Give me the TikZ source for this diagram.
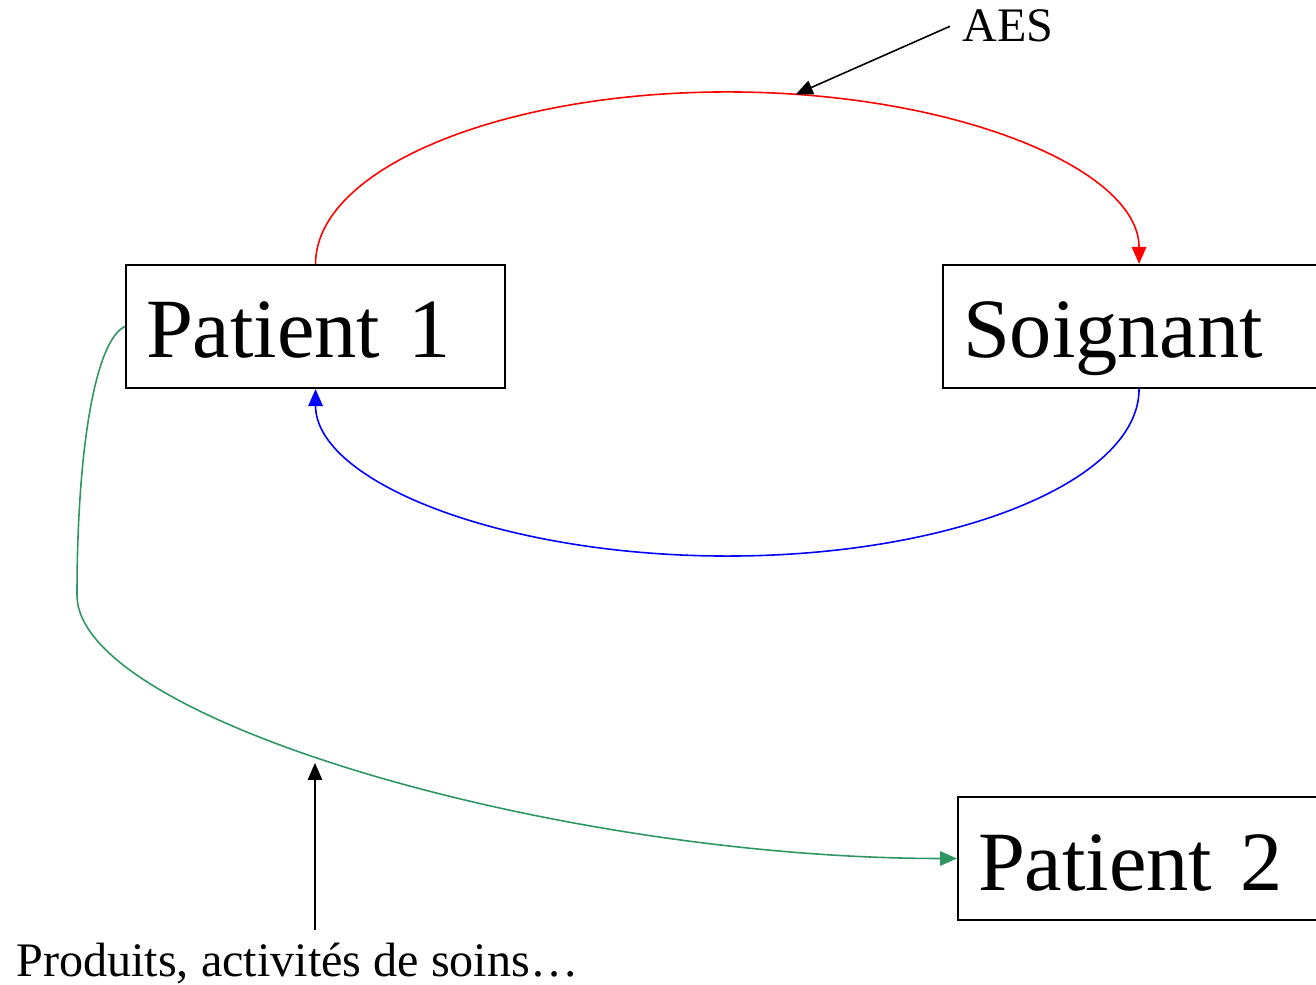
\documentclass[tikz,border=0pt]{standalone}
\usepackage{fontspec}
\setmainfont{Liberation Serif}
\usetikzlibrary{arrows.meta,positioning,calc}

\definecolor{aesred}{RGB}{255,0,0}
\definecolor{backblue}{RGB}{0,0,255}
\definecolor{crossgreen}{RGB}{46,150,100}

\begin{document}
\begin{tikzpicture}[
    box/.style={rectangle, draw, line width=0.6pt, minimum height=1.23cm, text height=0.63cm, text depth=0cm, align=left, inner xsep=0.2cm, font=\fontsize{24}{28}\selectfont},
    label/.style={font=\fontsize{13.7}{16}\selectfont},
    flow/.style={line width=0.45pt, -{Triangle[length=1.7mm, width=1.45mm]}},
    pointer/.style={black, line width=0.45pt, -{Triangle[length=1.7mm, width=1.45mm]}}
]
    \useasboundingbox (0,0) rectangle (13.16,-9.85);

    % Patient 1
    \node[box, text width=3.39cm, anchor=west] (p1) at (1.25,-3.265) {Patient 1};

    % Soignant
    \node[box, text width=3.52cm, anchor=west] (soig) at (9.42,-3.265) {Soignant};

    % Patient 2
    \node[box, text width=3.6cm, anchor=west] (p2) at (9.57,-8.585) {Patient 2};

    % Labels
    \node[label, anchor=base west] (aes) at (9.5,-0.42) {AES};
    \node[label, anchor=base west] (prod) at (0.04,-9.76) {Produits, activités de soins…};

    % Helper points
    \coordinate (top) at ($(p1.north)!0.5!(soig.north)+(0,1.72)$);
    \coordinate (bottom) at ($(p1.south)!0.5!(soig.south)+(0,-1.67)$);
    \coordinate (bend) at (0.77,-5.95);
    \coordinate (hit) at ($(top)+(0.685,-0.024)$);
    \coordinate (gtip) at (3.15,-7.63);

    % Patient 1 -> Soignant
    \draw[flow, aesred] (p1.north) .. controls +(0,0.95) and +(-2.27,0) .. (top)
        .. controls +(2.27,0) and +(0,0.95) .. (soig.north);

    % Soignant -> Patient 1
    \draw[flow, backblue] (soig.south) .. controls +(0,-0.92) and +(2.27,0) .. (bottom)
        .. controls +(-2.27,0) and +(0,-0.92) .. (p1.south);

    % Patient 1 -> Patient 2
    \draw[flow, crossgreen] (p1.west) .. controls +(-0.3,-0.14) and +(0,1.45) .. (bend)
        .. controls +(0,-1.25) and +(-3.97,0) .. (p2.west);

    % Pointers
    \draw[pointer] (aes.west) -- (hit);
    \draw[pointer] (gtip |- prod.north) -- (gtip);

\end{tikzpicture}
\end{document}
